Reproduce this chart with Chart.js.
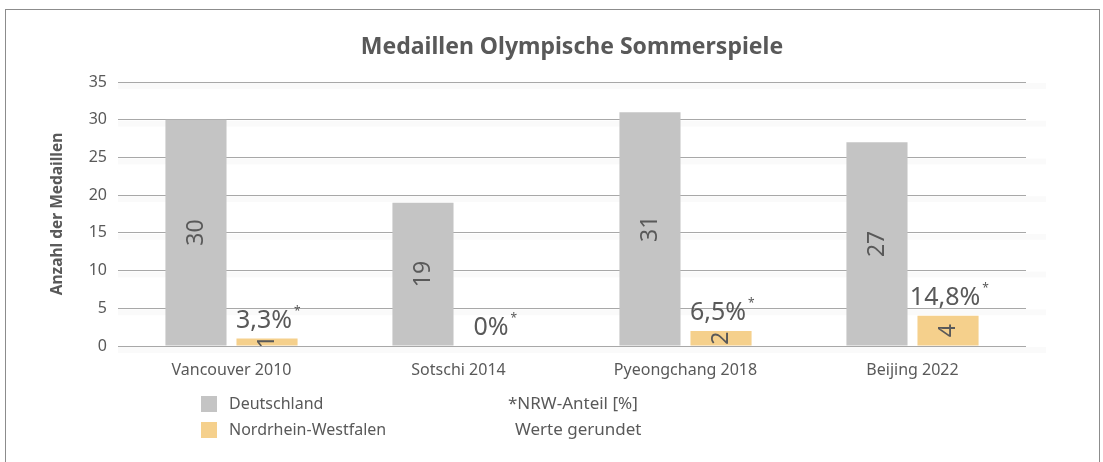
<!DOCTYPE html>
<html>
<head>
<meta charset="utf-8">
<script src="https://cdn.jsdelivr.net/npm/chart.js@4/dist/chart.umd.min.js"></script>
<style>
  html, body { margin: 0; padding: 0; background: #fff; }
  #wrap { width: 1103px; height: 462px; position: relative; }
</style>
</head>
<body>
<div id="wrap"><canvas id="chart" width="1103" height="462"></canvas></div>
<script>
const categories = ["Vancouver 2010", "Sotschi 2014", "Pyeongchang 2018", "Beijing 2022"];
const deutschland = [30, 19, 31, 27];
const nrw = [1, 0, 2, 4];
const nrwShare = ["3,3%", "0%", "6,5%", "14,8%"];
const yTicks = [0, 5, 10, 15, 20, 25, 30, 35];

const TEXT = "#595959";
const FONT = "'Noto Sans', sans-serif";
const GREY = "#c4c4c4";
const ORANGE = "#f5d08c";

// labels, title, legend and frame drawn by hand
const decorations = {
  id: "decorations",
  beforeDatasetsDraw(chart) {
    // soft band under each gridline, like the original
    const ctx = chart.ctx;
    const area = chart.chartArea;
    const y = chart.scales.y;
    ctx.save();
    yTicks.forEach(v => {
      const py = y.getPixelForValue(v);
      ctx.fillStyle = "rgba(0,0,0,0.018)";
      ctx.fillRect(area.left, py + 1, area.right - area.left + 20, 6);
    });
    ctx.restore();
  },
  afterDatasetsDraw(chart) {
    const ctx = chart.ctx;
    const area = chart.chartArea;
    ctx.save();
    ctx.fillStyle = TEXT;

    // value labels rotated inside bars
    chart.data.datasets.forEach((ds, i) => {
      chart.getDatasetMeta(i).data.forEach((bar, j) => {
        if (!ds.data[j]) return;
        ctx.save();
        ctx.beginPath();
        ctx.rect(area.left, area.top, area.right - area.left, area.bottom - area.top);
        ctx.clip();
        ctx.translate(bar.x, (bar.y + bar.base) / 2);
        ctx.rotate(-Math.PI / 2);
        ctx.font = "23px " + FONT;
        ctx.textAlign = "center";
        ctx.textBaseline = "middle";
        ctx.fillText(String(ds.data[j]), 0, 0);
        ctx.restore();
      });
    });

    // NRW share above orange bars
    chart.getDatasetMeta(1).data.forEach((bar, j) => {
      const txt = nrwShare[j];
      ctx.font = "25px " + FONT;
      const w = ctx.measureText(txt).width;
      const cy = bar.y - 18;
      ctx.textAlign = "left";
      ctx.textBaseline = "middle";
      ctx.fillText(txt, bar.x - w / 2 - 3, cy);
      ctx.font = "12px " + FONT;
      ctx.fillText("*", bar.x + w / 2 - 1, cy - 9);
    });
    ctx.restore();
  },
  afterDraw(chart) {
    const ctx = chart.ctx;
    ctx.save();
    ctx.fillStyle = TEXT;

    // title
    ctx.font = "bold 23px " + FONT;
    ctx.textAlign = "center";
    ctx.textBaseline = "middle";
    ctx.fillText("Medaillen Olympische Sommerspiele", 572, 47);

    // y axis title
    ctx.save();
    ctx.translate(58, 214);
    ctx.rotate(-Math.PI / 2);
    ctx.font = "bold 15.5px " + FONT;
    ctx.fillText("Anzahl der Medaillen", 0, 0);
    ctx.restore();

    // legend
    ctx.font = "16px " + FONT;
    ctx.textAlign = "left";
    const items = [["Deutschland", GREY, 404], ["Nordrhein-Westfalen", ORANGE, 430]];
    items.forEach(([label, col, y]) => {
      ctx.fillStyle = col;
      ctx.fillRect(201, y - 8, 16, 16);
      ctx.fillStyle = TEXT;
      ctx.fillText(label, 229, y);
    });
    ctx.font = "17px " + FONT;
    ctx.fillText("*NRW-Anteil [%]", 508, 404);
    ctx.fillText("Werte gerundet", 515, 430);

    // frame
    ctx.strokeStyle = "#8c8c8c";
    ctx.lineWidth = 1;
    ctx.strokeRect(5.5, 9.5, 1094, 470);
    ctx.restore();
  }
};

new Chart(document.getElementById("chart"), {
  type: "bar",
  data: {
    labels: categories,
    datasets: [
      { label: "Deutschland", data: deutschland, backgroundColor: GREY },
      { label: "Nordrhein-Westfalen", data: nrw, backgroundColor: ORANGE }
    ]
  },
  options: {
    responsive: false,
    animation: false,
    layout: { padding: { top: 82, right: 77, bottom: 0, left: 0 } },
    datasets: { bar: { categoryPercentage: 0.626, barPercentage: 0.86 } },
    plugins: { legend: { display: false }, tooltip: { enabled: false }, title: { display: false } },
    scales: {
      x: {
        grid: { display: false },
        border: { display: false },
        ticks: { color: TEXT, font: { family: FONT, size: 16 }, padding: 7 },
        afterFit(scale) { scale.height = 116; }
      },
      y: {
        min: 0,
        max: 35,
        afterBuildTicks(scale) { scale.ticks = yTicks.map(v => ({ value: v })); },
        grid: { color: "#a8a8a8", drawTicks: false },
        border: { display: false },
        ticks: { color: TEXT, font: { family: FONT, size: 16 }, padding: 11 },
        afterFit(scale) { scale.width = 118; }
      }
    }
  },
  plugins: [decorations]
});
</script>
</body>
</html>
